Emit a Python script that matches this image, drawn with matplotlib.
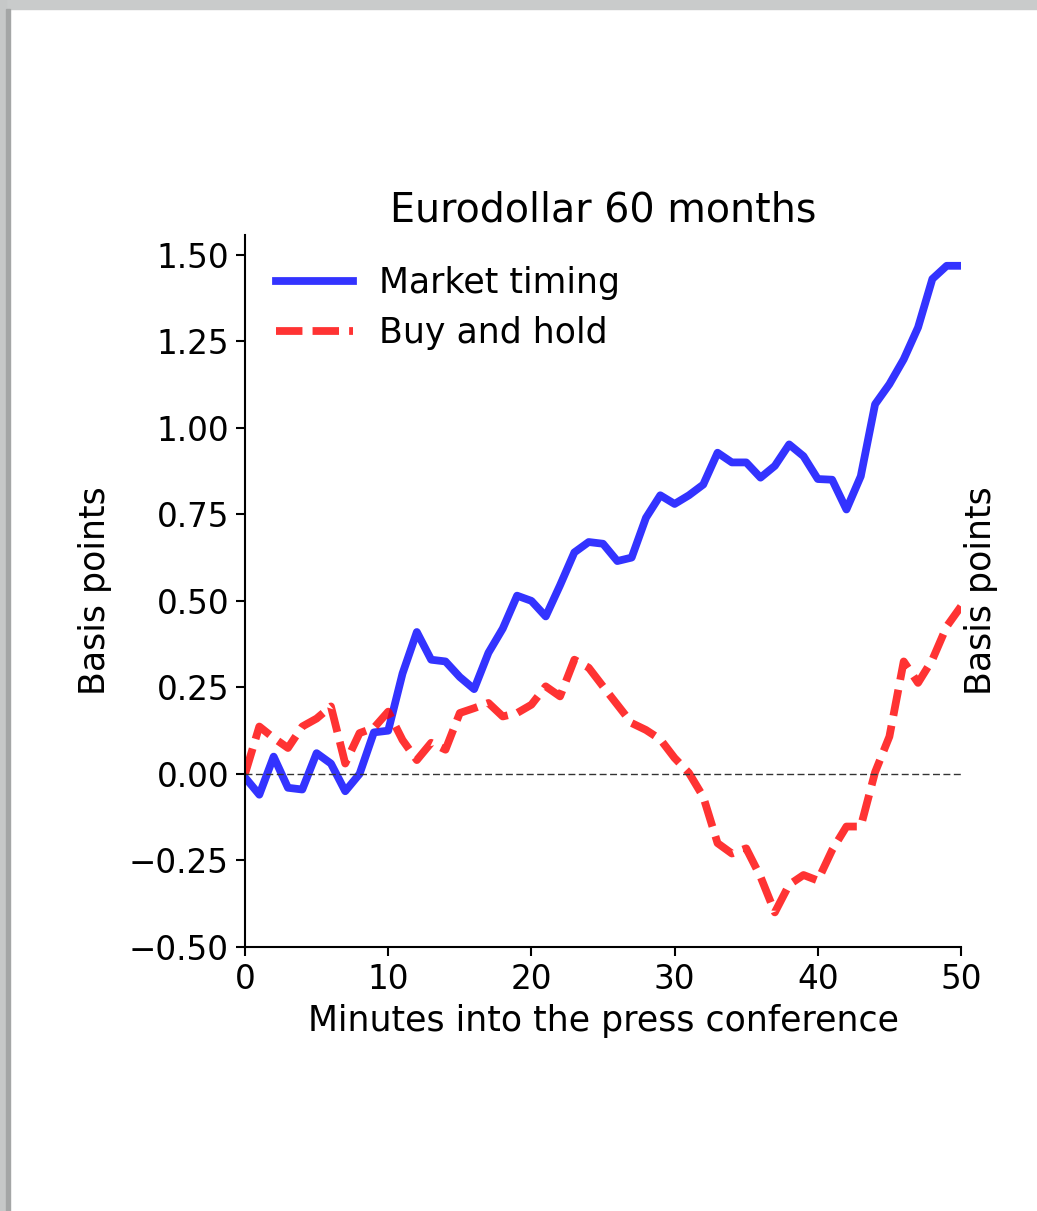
import numpy as np
import matplotlib
matplotlib.use("Agg")
import matplotlib.pyplot as plt
from matplotlib.patches import Rectangle

# Cumulative returns in basis points, one value per minute
minutes = np.arange(0, 51)
market_timing = [-0.01, -0.06, 0.05, -0.04, -0.045, 0.06, 0.03, -0.05, 0.0, 0.12,
                 0.125, 0.29, 0.41, 0.33, 0.325, 0.28, 0.245, 0.35, 0.42, 0.515,
                 0.50, 0.455, 0.545, 0.64, 0.67, 0.665, 0.615, 0.625, 0.74, 0.805,
                 0.78, 0.805, 0.836, 0.928, 0.90, 0.90, 0.856, 0.89, 0.952, 0.918,
                 0.852, 0.85, 0.764, 0.86, 1.068, 1.126, 1.198, 1.29, 1.43, 1.468,
                 1.468]
buy_and_hold = [0.0, 0.137, 0.104, 0.075, 0.137, 0.16, 0.195, 0.03, 0.118, 0.133,
                0.18, 0.098, 0.04, 0.09, 0.07, 0.176, 0.19, 0.205, 0.166, 0.176,
                0.20, 0.253, 0.224, 0.33, 0.307, 0.253, 0.20, 0.147, 0.127, 0.10,
                0.046, 0.003, -0.066, -0.20, -0.23, -0.215, -0.297, -0.40, -0.32, -0.292,
                -0.308, -0.22, -0.152, -0.152, 0.005, 0.108, 0.325, 0.263, 0.33, 0.426,
                0.484]

fig = plt.figure(figsize=(10.37, 12.11), dpi=100)

# grey window edge at top and left
fig.patches.append(Rectangle((0, 1 - 9 / 1211), 1, 9 / 1211, transform=fig.transFigure,
                             color='#c9cbcb', zorder=0))
fig.patches.append(Rectangle((0, 0), 6 / 1037, 1, transform=fig.transFigure,
                             color='#c6c8c8', zorder=0))
fig.patches.append(Rectangle((6 / 1037, 0), 4 / 1037, 1 - 9 / 1211, transform=fig.transFigure,
                             color='#a4a6a6', zorder=0))

ax = fig.add_axes([245 / 1037, 1 - 947 / 1211, 716 / 1037, 712 / 1211])

ax.plot(minutes, market_timing, color='b', alpha=0.8, lw=5.6, label='Market timing')
ax.plot(minutes, buy_and_hold, color='r', alpha=0.8, lw=5.6, ls=(0, (3.4, 1.3)),
        label='Buy and hold')
ax.axhline(0, color='#333333', lw=1.0, ls=(0, (5, 2.5)))

ax.set_xlim(0, 50)
ax.set_ylim(-0.5, 1.557)
ax.set_xticks([0, 10, 20, 30, 40, 50])
ax.set_yticks(np.arange(-0.5, 1.51, 0.25))

for s in ['top', 'right']:
    ax.spines[s].set_visible(False)
for s in ['left', 'bottom']:
    ax.spines[s].set_linewidth(1.5)
ax.tick_params(labelsize=23.5, length=6.5, width=1.5, pad=5)

ax.set_title('Eurodollar 60 months', fontsize=28.5, pad=10)
ax.set_xlabel('Minutes into the press conference', fontsize=25, labelpad=6)
ax.set_ylabel('Basis points', fontsize=25, labelpad=12)

ax2 = ax.twinx()
ax2.set_ylim(ax.get_ylim())
ax2.set_yticks([])
for s in ax2.spines.values():
    s.set_visible(False)
ax2.set_ylabel('Basis points', fontsize=25, labelpad=2)

ax.legend(loc='upper left', frameon=False, fontsize=25, handlelength=2.2,
          labelspacing=0.45, handletextpad=0.75)

fig.savefig('out.png', dpi=100)
